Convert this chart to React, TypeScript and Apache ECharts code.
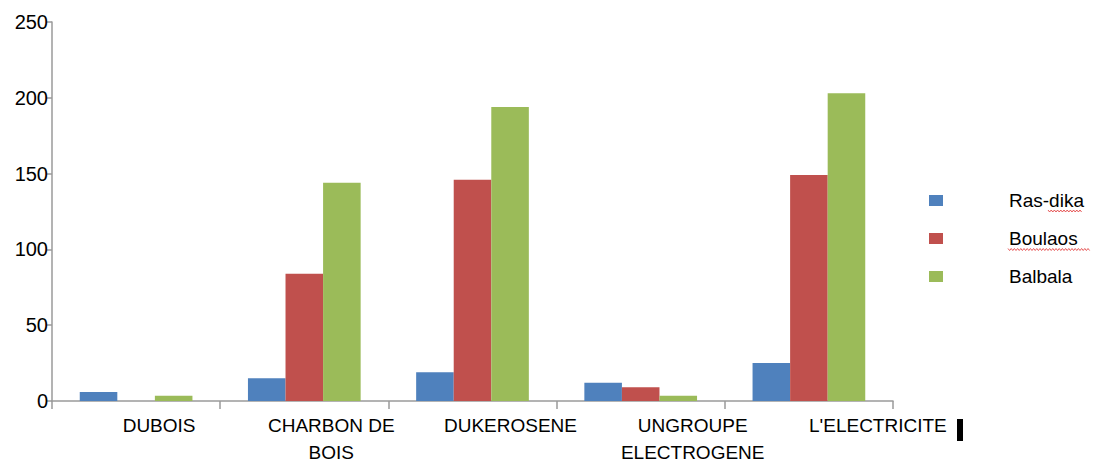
import React, { useEffect, useRef } from "react";
import * as echarts from "echarts";

const categories = ["DUBOIS", "CHARBON DE\nBOIS", "DUKEROSENE", "UNGROUPE\nELECTROGENE", "L'ELECTRICITE"];
const labelShift = [46, 54, 76, 104, 138];
const seriesNames = ["Ras-dika", "Boulaos", "Balbala"];
const rasDika = [6, 15, 19, 12, 25];
const boulaos = [0, 84, 146, 9, 149];
const balbala = [3.5, 144, 194, 3.5, 203];
const colors = ["#4F81BD", "#C0504D", "#9BBB59"];
const yTicks = { min: 0, max: 250, interval: 50 };

function squiggle(x0: number, x1: number, y: number): number[][] {
  const pts: number[][] = [];
  let up = true;
  for (let x = x0; x <= x1; x += 1.6) {
    pts.push([x, up ? y - 1 : y + 1]);
    up = !up;
  }
  return pts;
}

export default function App() {
  const ref = useRef<HTMLDivElement>(null);
  useEffect(() => {
    if (!ref.current) return;
    const chart = echarts.init(ref.current, null, { renderer: "svg" });
    const font = "Liberation Sans, Arial, sans-serif";
    const values = [rasDika, boulaos, balbala];
    chart.setOption({
      animation: false,
      backgroundColor: "#ffffff",
      textStyle: { fontFamily: font },
      grid: { left: 52, right: 200, top: 22, bottom: 63, containLabel: false },
      legend: {
        orient: "vertical",
        left: 929,
        top: 191,
        padding: 0,
        icon: "rect",
        itemWidth: 14,
        itemHeight: 11,
        itemGap: 19,
        data: seriesNames,
        textStyle: {
          fontFamily: font,
          fontSize: 19,
          color: "#000",
          lineHeight: 19,
          padding: [0, 0, 0, 61],
        },
      },
      xAxis: {
        type: "category",
        data: categories.map((c, i) => ({
          value: c,
          textStyle: { padding: [0, 0, 0, labelShift[i]] },
        })),
        axisLine: { lineStyle: { color: "#9a9a9a", width: 1.5 } },
        axisTick: { show: true, length: 8, lineStyle: { color: "#9a9a9a", width: 1.5 } },
        axisLabel: {
          interval: 0,
          fontSize: 19,
          color: "#000",
          margin: 11,
          lineHeight: 27,
          fontFamily: font,
        },
      },
      yAxis: {
        type: "value",
        min: yTicks.min,
        max: yTicks.max,
        interval: yTicks.interval,
        splitLine: { show: false },
        axisLine: { show: true, lineStyle: { color: "#9a9a9a", width: 1.5 } },
        axisTick: { show: true, length: 5, lineStyle: { color: "#9a9a9a", width: 1.5 } },
        axisLabel: { fontSize: 20, color: "#000", margin: 4, fontFamily: font },
      },
      series: seriesNames.map((name, i) => ({
        name,
        type: "bar",
        data: values[i],
        barGap: "0%",
        barCategoryGap: "33%",
        itemStyle: { color: colors[i] },
      })),
      graphic: [
        { type: "rect", shape: { x: 957, y: 419, width: 6, height: 22 }, style: { fill: "#000" } },
        {
          type: "polyline",
          shape: { points: squiggle(1048, 1083, 211) },
          style: { stroke: "#e03030", lineWidth: 0.8, fill: "none" },
        },
        {
          type: "polyline",
          shape: { points: squiggle(1008, 1090, 249.5) },
          style: { stroke: "#e03030", lineWidth: 0.8, fill: "none" },
        },
      ],
    });
    return () => chart.dispose();
  }, []);
  return (
    <div
      ref={ref}
      style={{ position: "fixed", left: 0, top: 0, width: 1093, height: 466, background: "#fff" }}
    />
  );
}
